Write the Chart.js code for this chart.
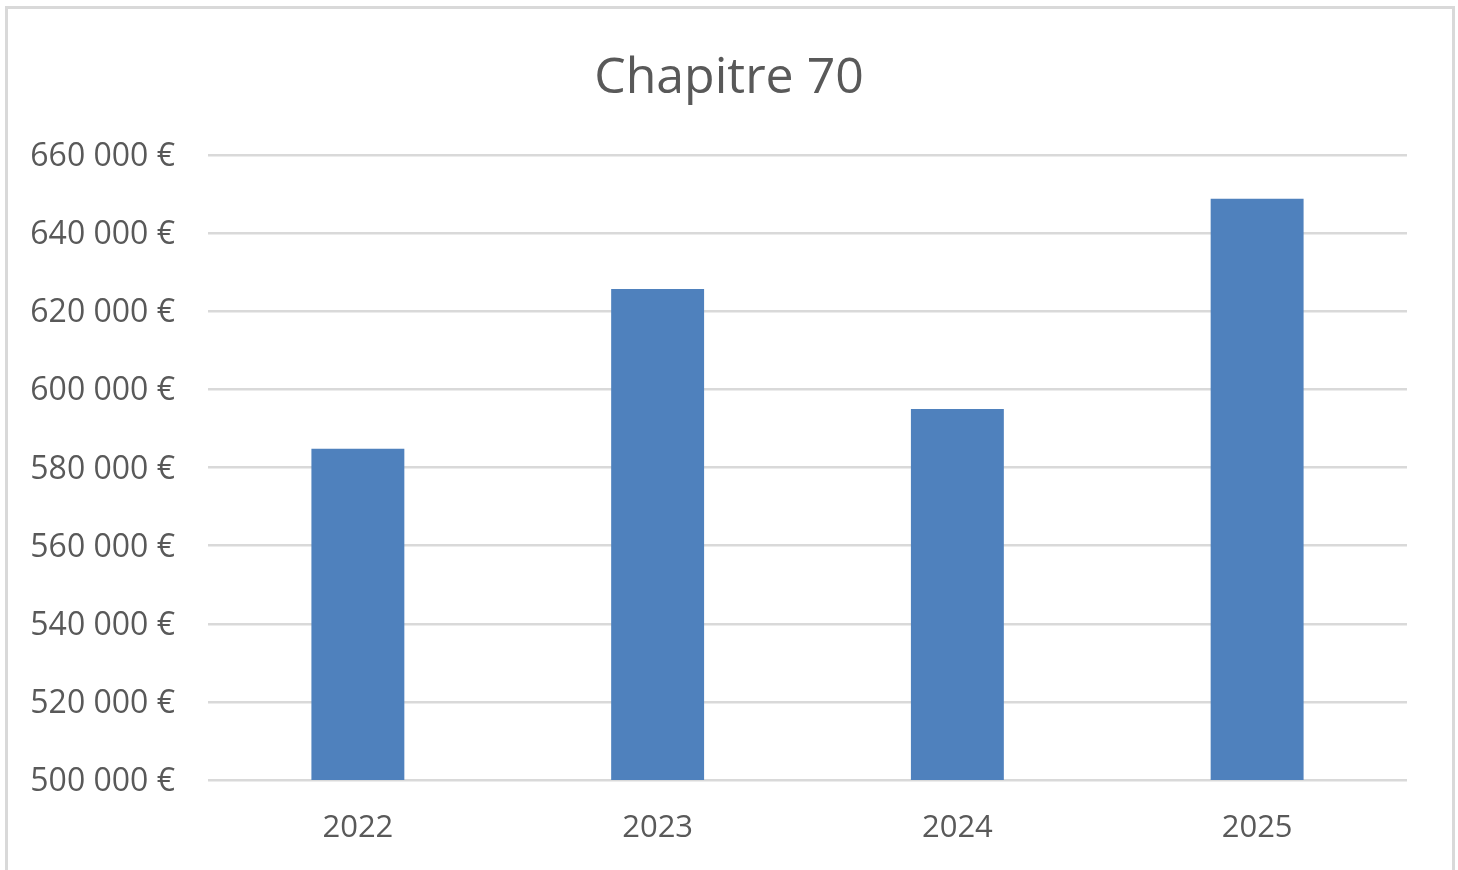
<!DOCTYPE html>
<html>
<head>
<meta charset="utf-8">
<script src="https://cdn.jsdelivr.net/npm/chart.js@4/dist/chart.umd.min.js"></script>
<style>
html,body{margin:0;padding:0;background:#fff;width:1458px;height:870px;overflow:hidden;}
#wrap{position:absolute;left:0;top:0;width:1458px;height:870px;}
#frame{position:absolute;left:5px;top:6px;width:1444px;height:870px;border:3px solid #d9d9d9;box-sizing:content-box;pointer-events:none;}
</style>
</head>
<body>
<div id="wrap"><canvas id="c" width="1458" height="870"></canvas></div>
<div id="frame"></div>
<script>
const chartTitle = "Chapitre 70";
const categories = ["2022", "2023", "2024", "2025"];
const values = [584800, 625700, 595000, 648800];
const yMin = 500000, yMax = 660000, yStep = 20000;

function fmt(v){
  return String(Math.round(v)).replace(/\B(?=(\d{3})+(?!\d))/g, " ") + " €";
}

const FONT = "'Open Sans', 'Noto Sans', sans-serif";
const TXT = "#595959";

new Chart(document.getElementById('c'), {
  type: 'bar',
  data: {
    labels: categories,
    datasets: [{
      data: values,
      backgroundColor: '#4f81bd',
      borderWidth: 0,
      barPercentage: 0.62,
      categoryPercentage: 0.5
    }]
  },
  options: {
    responsive: false,
    animation: false,
    devicePixelRatio: 1,
    layout: { padding: { left: 0, right: 0, top: 0, bottom: 0 } },
    plugins: {
      legend: { display: false },
      tooltip: { enabled: false },
      title: {
        display: true,
        text: chartTitle,
        color: TXT,
        font: { family: FONT, size: 50, weight: 'normal', lineHeight: 1.2 },
        padding: { top: 49, bottom: 46 }
      }
    },
    scales: {
      x: {
        grid: { display: false, drawTicks: false },
        border: { display: false },
        ticks: { color: TXT, font: { family: FONT, size: 31 }, padding: 30 },
        afterFit(s){ s.height = 90; }
      },
      y: {
        min: yMin, max: yMax,
        grid: { color: '#d9d9d9', lineWidth: 2.5, drawTicks: false },
        border: { display: false },
        ticks: {
          stepSize: yStep,
          color: TXT,
          font: { family: FONT, size: 32 },
          padding: 33,
          labelOffset: 2,
          callback: (v) => fmt(v)
        },
        afterFit(s){ s.width = 208; }
      },
      yR: {
        position: 'right',
        display: true,
        grid: { display: false, drawTicks: false },
        border: { display: false },
        ticks: { display: false },
        afterFit(s){ s.width = 51; }
      }
    }
  }
});
</script>
</body>
</html>
